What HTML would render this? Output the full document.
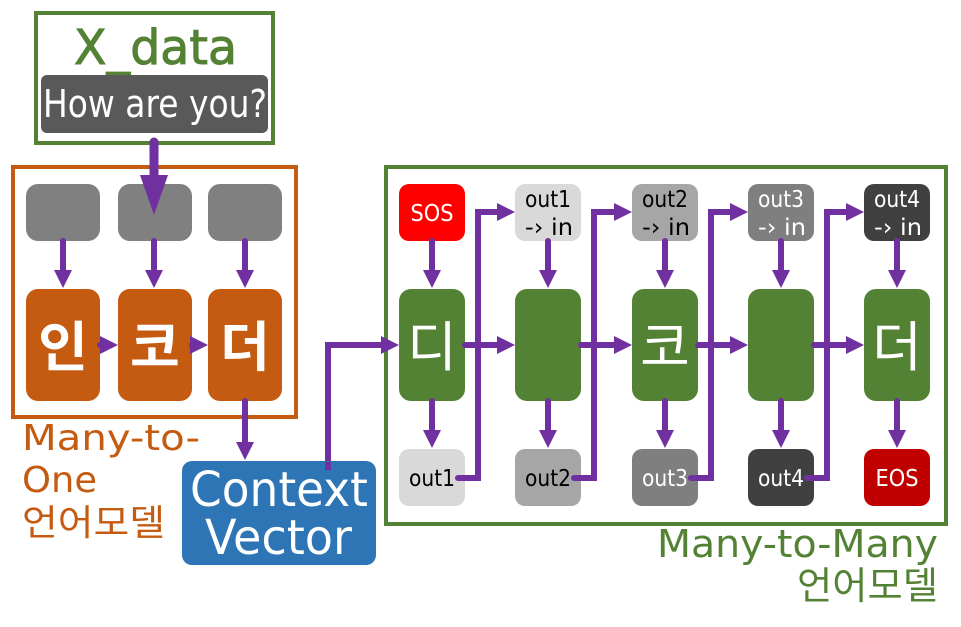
<!DOCTYPE html>
<html><head><meta charset="utf-8"><style>
html,body{margin:0;padding:0;background:#fff;}
svg{display:block;}
text{font-family:"DejaVu Sans","Noto Sans CJK KR",sans-serif;}
.k{font-family:"Noto Sans CJK KR",sans-serif;}
</style></head><body>
<svg width="961" height="627" viewBox="0 0 961 627" xmlns="http://www.w3.org/2000/svg">
<!-- X_data -->
<rect x="36" y="13" width="237" height="130" fill="#fff" stroke="#548235" stroke-width="4"/>
<text x="74" y="64" font-size="48" fill="#548235" stroke="#548235" stroke-width="1" textLength="163" lengthAdjust="spacingAndGlyphs">X_data</text>
<rect x="41" y="75" width="227" height="58" rx="6" fill="#595959"/>
<text x="43" y="117" font-size="38" fill="#fff" textLength="224" lengthAdjust="spacingAndGlyphs">How are you?</text>
<!-- encoder -->
<rect x="13" y="167" width="283" height="250" fill="#fff" stroke="#c55a11" stroke-width="4"/>
<g fill="#808080">
<rect x="26" y="184" width="74" height="57" rx="12"/>
<rect x="118" y="184" width="74" height="57" rx="12"/>
<rect x="208" y="184" width="74" height="57" rx="12"/>
</g>
<g fill="#c55a11">
<rect x="26" y="289" width="74" height="112" rx="12"/>
<rect x="118" y="289" width="74" height="112" rx="12"/>
<rect x="208" y="289" width="74" height="112" rx="12"/>
</g>
<g font-size="54" font-weight="bold" fill="#fff" text-anchor="middle">
<text x="63" y="366" class="k">인</text><text x="155" y="366" class="k">코</text><text x="245" y="366" class="k">더</text>
</g>
<line x1="154" y1="142" x2="154" y2="180" stroke="#7030a0" stroke-width="9" stroke-linecap="round"/>
<polygon points="140,175 168,175 154,215" fill="#7030a0"/>
<g stroke="#7030a0" stroke-width="6" fill="none" stroke-linecap="round">
<line x1="63" y1="241" x2="63" y2="275"/>
<line x1="154" y1="241" x2="154" y2="275"/>
<line x1="245" y1="241" x2="245" y2="275"/>
<line x1="100" y1="345" x2="106" y2="345"/>
<line x1="192" y1="345" x2="196" y2="345"/>
<line x1="245" y1="401" x2="245" y2="447"/>
<polyline points="328,462 328,345 386,345"/>
</g>
<!-- decoder -->
<rect x="386" y="167" width="560" height="357" fill="#fff" stroke="#548235" stroke-width="4"/>
<rect x="399" y="184" width="66" height="57" rx="10" fill="#ff0000"/>
<rect x="515" y="184" width="66" height="57" rx="10" fill="#d9d9d9"/>
<rect x="632" y="184" width="66" height="57" rx="10" fill="#a6a6a6"/>
<rect x="748" y="184" width="66" height="57" rx="10" fill="#7f7f7f"/>
<rect x="864" y="184" width="66" height="57" rx="10" fill="#404040"/>
<g fill="#548235">
<rect x="399" y="289" width="66" height="112" rx="12"/>
<rect x="515" y="289" width="66" height="112" rx="12"/>
<rect x="632" y="289" width="66" height="112" rx="12"/>
<rect x="748" y="289" width="66" height="112" rx="12"/>
<rect x="864" y="289" width="66" height="112" rx="12"/>
</g>
<rect x="399" y="449" width="66" height="57" rx="10" fill="#d9d9d9"/>
<rect x="515" y="449" width="66" height="57" rx="10" fill="#a6a6a6"/>
<rect x="632" y="449" width="66" height="57" rx="10" fill="#7f7f7f"/>
<rect x="748" y="449" width="66" height="57" rx="10" fill="#404040"/>
<rect x="864" y="449" width="66" height="57" rx="10" fill="#c00000"/>
<g font-size="54" fill="#fff" text-anchor="middle">
<text x="432" y="366" class="k">디</text><text x="665" y="366" class="k">코</text><text x="897" y="366" class="k">더</text>
</g>
<g font-size="23" text-anchor="middle">
<text x="432" y="221" fill="#fff" textLength="43" lengthAdjust="spacingAndGlyphs">SOS</text>
<text x="548" y="207" fill="#000" textLength="46" lengthAdjust="spacingAndGlyphs">out1</text><text x="549" y="235" fill="#000" textLength="48" lengthAdjust="spacingAndGlyphs">-› in</text>
<text x="665" y="207" fill="#000" textLength="46" lengthAdjust="spacingAndGlyphs">out2</text><text x="666" y="235" fill="#000" textLength="48" lengthAdjust="spacingAndGlyphs">-› in</text>
<text x="781" y="207" fill="#fff" textLength="46" lengthAdjust="spacingAndGlyphs">out3</text><text x="782" y="235" fill="#fff" textLength="48" lengthAdjust="spacingAndGlyphs">-› in</text>
<text x="897" y="207" fill="#fff" textLength="46" lengthAdjust="spacingAndGlyphs">out4</text><text x="898" y="235" fill="#fff" textLength="48" lengthAdjust="spacingAndGlyphs">-› in</text>
<text x="432" y="486" fill="#000" textLength="46" lengthAdjust="spacingAndGlyphs">out1</text>
<text x="548" y="486" fill="#000" textLength="46" lengthAdjust="spacingAndGlyphs">out2</text>
<text x="665" y="486" fill="#fff" textLength="46" lengthAdjust="spacingAndGlyphs">out3</text>
<text x="781" y="486" fill="#fff" textLength="46" lengthAdjust="spacingAndGlyphs">out4</text>
<text x="897" y="486" fill="#fff" textLength="43" lengthAdjust="spacingAndGlyphs">EOS</text>
</g>
<g stroke="#7030a0" stroke-width="6" fill="none" stroke-linecap="round">
<line x1="432" y1="241" x2="432" y2="275"/>
<line x1="548" y1="241" x2="548" y2="275"/>
<line x1="665" y1="241" x2="665" y2="275"/>
<line x1="781" y1="241" x2="781" y2="275"/>
<line x1="897" y1="241" x2="897" y2="275"/>
<line x1="432" y1="401" x2="432" y2="435"/>
<line x1="548" y1="401" x2="548" y2="435"/>
<line x1="665" y1="401" x2="665" y2="435"/>
<line x1="781" y1="401" x2="781" y2="435"/>
<line x1="897" y1="401" x2="897" y2="435"/>
<line x1="465" y1="345" x2="502" y2="345"/>
<line x1="581" y1="345" x2="619" y2="345"/>
<line x1="698" y1="345" x2="735" y2="345"/>
<line x1="814" y1="345" x2="851" y2="345"/>
<polyline points="458,478 478,478 478,212 502,212"/>
<polyline points="574,478 594,478 594,212 619,212"/>
<polyline points="691,478 711,478 711,212 735,212"/>
<polyline points="807,478 827,478 827,212 851,212"/>
</g>
<g fill="#7030a0">
<polygon points="54,270 72,270 63,288"/>
<polygon points="145,270 163,270 154,288"/>
<polygon points="236,270 254,270 245,288"/>
<polygon points="236,442 254,442 245,460"/>
<polygon points="423,270 441,270 432,288"/>
<polygon points="539,270 557,270 548,288"/>
<polygon points="656,270 674,270 665,288"/>
<polygon points="772,270 790,270 781,288"/>
<polygon points="888,270 906,270 897,288"/>
<polygon points="423,430 441,430 432,448"/>
<polygon points="539,430 557,430 548,448"/>
<polygon points="656,430 674,430 665,448"/>
<polygon points="772,430 790,430 781,448"/>
<polygon points="888,430 906,430 897,448"/>
<polygon points="100,336 100,354 118,345"/>
<polygon points="190,336 190,354 208,345"/>
<polygon points="381,336 381,354 399,345"/>
<polygon points="497,336 497,354 515,345"/>
<polygon points="614,336 614,354 632,345"/>
<polygon points="730,336 730,354 748,345"/>
<polygon points="846,336 846,354 864,345"/>
<polygon points="497,203 497,221 515,212"/>
<polygon points="614,203 614,221 632,212"/>
<polygon points="730,203 730,221 748,212"/>
<polygon points="846,203 846,221 864,212"/>
</g>
<text x="22" y="450" font-size="36" fill="#c55a11" textLength="178" lengthAdjust="spacingAndGlyphs">Many-to-</text>
<text x="22" y="492" font-size="36" fill="#c55a11" textLength="75" lengthAdjust="spacingAndGlyphs">One</text>
<text x="22" y="535" font-size="36" fill="#c55a11" class="k" textLength="143" lengthAdjust="spacingAndGlyphs">언어모델</text>
<rect x="182" y="461" width="194" height="104" rx="10" fill="#2e75b6"/>
<text x="190" y="506" font-size="48" fill="#fff" textLength="178" lengthAdjust="spacingAndGlyphs">Context</text>
<text x="205" y="554" font-size="48" fill="#fff" textLength="147" lengthAdjust="spacingAndGlyphs">Vector</text>
<line x1="328" y1="462" x2="328" y2="470" stroke="#7030a0" stroke-width="6"/>
<text x="657" y="557" font-size="38" fill="#548235" textLength="281" lengthAdjust="spacingAndGlyphs">Many-to-Many</text>
<text x="797" y="599" font-size="38" fill="#548235" class="k" textLength="141" lengthAdjust="spacingAndGlyphs">언어모델</text>
</svg>
</body></html>
